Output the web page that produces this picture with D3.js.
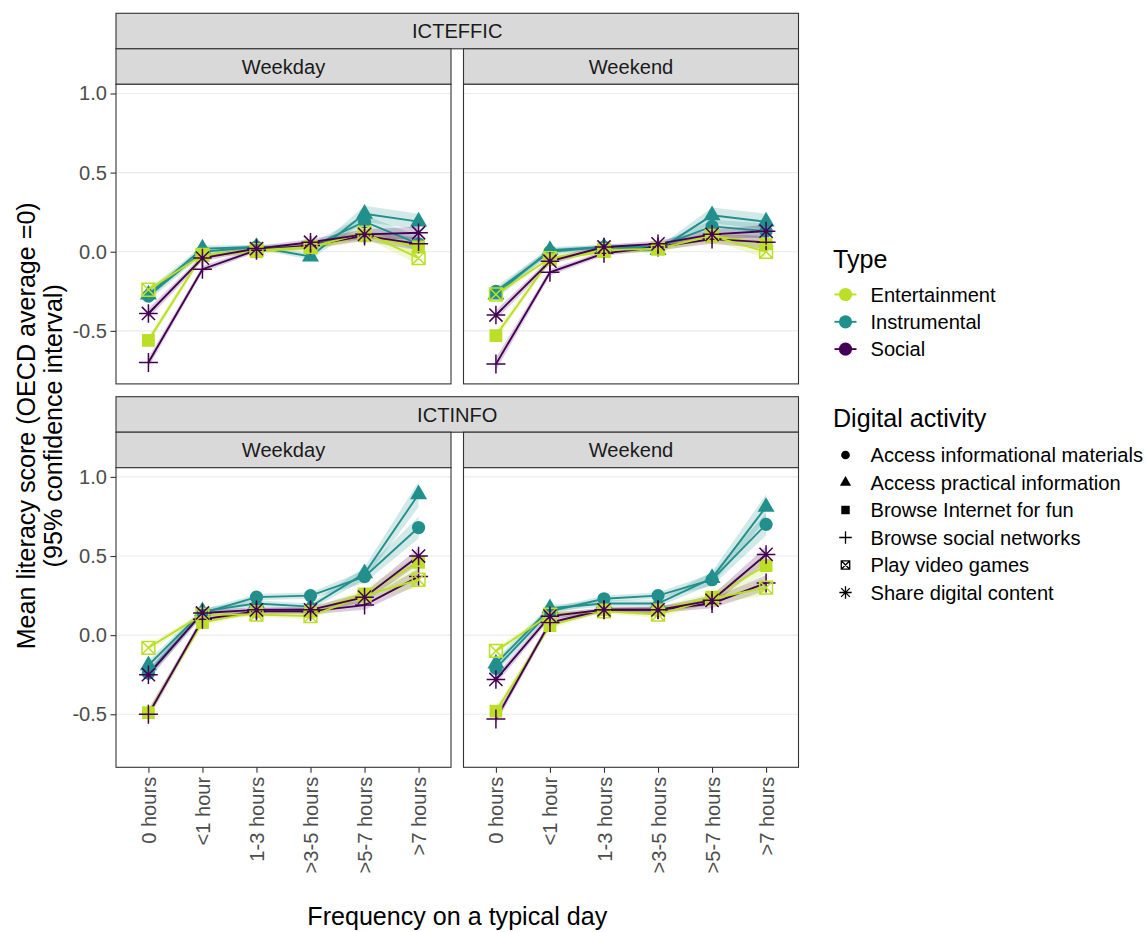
<!DOCTYPE html>
<html>
<head>
<meta charset="utf-8">
<script src="https://cdn.jsdelivr.net/npm/d3@7"></script>
<style>
  html, body { margin: 0; padding: 0; background: #fff; }
  svg { display: block; font-family: "Liberation Sans", Arial, Helvetica, sans-serif; }
</style>
</head>
<body>
<script>
// ---- data -------------------------------------------------------------
const categories = ["0 hours", "<1 hour", "1-3 hours", ">3-5 hours", ">5-7 hours", ">7 hours"];
const measures = ["ICTEFFIC", "ICTINFO"];
const days = ["Weekday", "Weekend"];
const types = ["Entertainment", "Instrumental", "Social"];
const typeColors = ["#BBDF27", "#21908C", "#440154"];
const activities = [
  "Access informational materials",
  "Access practical information",
  "Browse Internet for fun",
  "Browse social networks",
  "Play video games",
  "Share digital content"
];
const activityType = ["Instrumental", "Instrumental", "Entertainment", "Social", "Entertainment", "Social"];
const yTicks = [-0.5, 0, 0.5, 1.0];
const yTickLabels = ["-0.5", "0.0", "0.5", "1.0"];

// mean scores, one row per activity (same order as `activities`)
const effWeekdayMean = [
  [-0.28, 0.00, 0.03, 0.03, 0.19, 0.05],
  [-0.27, 0.02, 0.03, -0.03, 0.24, 0.19],
  [-0.56, -0.02, 0.00, 0.03, 0.10, 0.03],
  [-0.70, -0.11, 0.01, 0.04, 0.10, 0.05],
  [-0.24, -0.02, 0.01, 0.03, 0.12, -0.04],
  [-0.39, -0.04, 0.02, 0.06, 0.11, 0.12]
];
const effWeekendMean = [
  [-0.25, 0.00, 0.03, 0.03, 0.16, 0.13],
  [-0.27, 0.01, 0.03, 0.01, 0.23, 0.19],
  [-0.53, -0.05, 0.00, 0.02, 0.10, 0.05],
  [-0.71, -0.13, -0.01, 0.03, 0.08, 0.06],
  [-0.27, -0.04, 0.01, 0.02, 0.10, 0.00],
  [-0.40, -0.06, 0.03, 0.05, 0.11, 0.13]
];
const infoWeekdayMean = [
  [-0.24, 0.14, 0.24, 0.25, 0.37, 0.68],
  [-0.19, 0.15, 0.20, 0.18, 0.39, 0.89],
  [-0.49, 0.08, 0.15, 0.15, 0.26, 0.46],
  [-0.50, 0.10, 0.15, 0.15, 0.19, 0.37],
  [-0.08, 0.13, 0.13, 0.12, 0.25, 0.35],
  [-0.25, 0.14, 0.16, 0.16, 0.24, 0.50]
];
const infoWeekendMean = [
  [-0.21, 0.15, 0.23, 0.25, 0.35, 0.70],
  [-0.18, 0.17, 0.20, 0.20, 0.36, 0.81],
  [-0.48, 0.06, 0.16, 0.16, 0.24, 0.44],
  [-0.53, 0.08, 0.16, 0.16, 0.20, 0.33],
  [-0.10, 0.13, 0.15, 0.13, 0.23, 0.30],
  [-0.28, 0.12, 0.16, 0.16, 0.22, 0.51]
];

// half-width of the 95% confidence interval
const effWeekdayCI = [
  [0.03, 0.02, 0.015, 0.02, 0.04, 0.05],
  [0.03, 0.02, 0.015, 0.02, 0.05, 0.05],
  [0.03, 0.02, 0.015, 0.02, 0.03, 0.04],
  [0.03, 0.02, 0.015, 0.02, 0.03, 0.04],
  [0.02, 0.02, 0.015, 0.02, 0.03, 0.04],
  [0.03, 0.02, 0.015, 0.02, 0.03, 0.04]
];
const effWeekendCI = [
  [0.03, 0.02, 0.015, 0.02, 0.04, 0.05],
  [0.03, 0.02, 0.015, 0.02, 0.05, 0.05],
  [0.03, 0.02, 0.015, 0.02, 0.03, 0.04],
  [0.04, 0.02, 0.015, 0.02, 0.03, 0.04],
  [0.02, 0.02, 0.015, 0.02, 0.03, 0.04],
  [0.03, 0.02, 0.015, 0.02, 0.03, 0.04]
];
const infoWeekdayCI = [
  [0.03, 0.02, 0.02, 0.02, 0.04, 0.07],
  [0.03, 0.02, 0.02, 0.02, 0.04, 0.08],
  [0.03, 0.02, 0.015, 0.02, 0.03, 0.05],
  [0.03, 0.02, 0.015, 0.02, 0.03, 0.05],
  [0.02, 0.02, 0.015, 0.02, 0.03, 0.05],
  [0.03, 0.02, 0.015, 0.02, 0.03, 0.05]
];
const infoWeekendCI = [
  [0.03, 0.02, 0.02, 0.02, 0.04, 0.07],
  [0.03, 0.02, 0.02, 0.02, 0.04, 0.08],
  [0.03, 0.02, 0.015, 0.02, 0.03, 0.05],
  [0.03, 0.02, 0.015, 0.02, 0.03, 0.05],
  [0.02, 0.02, 0.015, 0.02, 0.03, 0.05],
  [0.03, 0.02, 0.015, 0.02, 0.03, 0.05]
];

const panels = [
  { measure: 0, day: 0, mean: effWeekdayMean, ci: effWeekdayCI },
  { measure: 0, day: 1, mean: effWeekendMean, ci: effWeekendCI },
  { measure: 1, day: 0, mean: infoWeekdayMean, ci: infoWeekdayCI },
  { measure: 1, day: 1, mean: infoWeekendMean, ci: infoWeekendCI }
];

// ---- layout -----------------------------------------------------------
const W = 1147, H = 932;
const colLeft = [116, 463.5];
const panelW = 335;
const rowTop = [13.3, 396.7];      // top of the outer strip in each row
const stripH = 35.5;
const panelH = 299.6;
const gridColor = "#EBEBEB", frameColor = "#333333";
const tickTextColor = "#4D4D4D", stripTextColor = "#1A1A1A";
const smallFont = 20.1, titleFont = 25.1;

const svg = d3.select("body").append("svg")
  .attr("width", W).attr("height", H)
  .attr("viewBox", `0 0 ${W} ${H}`);

const colorOf = d3.scaleOrdinal().domain(types).range(typeColors);

// marker path for each activity (0 circle, 1 triangle, 2 square, 3 plus, 4 crossed box, 5 asterisk)
function markerPath(shape, k) {
  const p = d3.path();
  if (shape === 0) {
    const r = 6.6 * k;
    p.moveTo(r, 0); p.arc(0, 0, r, 0, 2 * Math.PI);
  } else if (shape === 1) {
    const s = 17 * k, h = s * Math.sqrt(3) / 2;
    p.moveTo(0, -h * 2 / 3); p.lineTo(s / 2, h / 3); p.lineTo(-s / 2, h / 3); p.closePath();
  } else if (shape === 2) {
    const a = 6.4 * k;
    p.rect(-a, -a, 2 * a, 2 * a);
  } else if (shape === 3) {
    const a = 9.5 * k;
    p.moveTo(-a, 0); p.lineTo(a, 0); p.moveTo(0, -a); p.lineTo(0, a);
  } else if (shape === 4) {
    const a = 6.4 * k;
    p.rect(-a, -a, 2 * a, 2 * a);
    p.moveTo(-a, -a); p.lineTo(a, a); p.moveTo(a, -a); p.lineTo(-a, a);
  } else {
    const a = 9.3 * k, d = 6.6 * k;
    p.moveTo(-a, 0); p.lineTo(a, 0); p.moveTo(0, -a); p.lineTo(0, a);
    p.moveTo(-d, -d); p.lineTo(d, d); p.moveTo(d, -d); p.lineTo(-d, d);
  }
  return p.toString();
}
const filledShape = [true, true, true, false, false, false];

function drawMarker(g, shape, x, y, color, k, sw) {
  const el = g.append("path")
    .attr("d", markerPath(shape, k))
    .attr("transform", `translate(${x},${y})`);
  if (filledShape[shape]) el.attr("fill", color).attr("stroke", "none");
  else el.attr("fill", "none").attr("stroke", color).attr("stroke-width", sw || 1.5);
}

// ---- strips -----------------------------------------------------------
measures.forEach((m, r) => {
  const top = rowTop[r];
  const outerX0 = colLeft[0], outerX1 = colLeft[1] + panelW;
  svg.append("rect")
    .attr("x", outerX0).attr("y", top)
    .attr("width", outerX1 - outerX0).attr("height", stripH)
    .attr("fill", "#D9D9D9").attr("stroke", frameColor).attr("stroke-width", 1.1);
  svg.append("text")
    .attr("x", (outerX0 + outerX1) / 2).attr("y", top + stripH / 2)
    .attr("dy", "0.36em").attr("text-anchor", "middle")
    .attr("font-size", smallFont).attr("fill", stripTextColor).text(m);
  days.forEach((d, c) => {
    svg.append("rect")
      .attr("x", colLeft[c]).attr("y", top + stripH)
      .attr("width", panelW).attr("height", stripH)
      .attr("fill", "#D9D9D9").attr("stroke", frameColor).attr("stroke-width", 1.1);
    svg.append("text")
      .attr("x", colLeft[c] + panelW / 2).attr("y", top + stripH * 1.5)
      .attr("dy", "0.36em").attr("text-anchor", "middle")
      .attr("font-size", smallFont).attr("fill", stripTextColor).text(d);
  });
});

// ---- panels -----------------------------------------------------------
panels.forEach((pn, i) => {
  const x0 = colLeft[pn.day];
  const y0 = rowTop[pn.measure] + 2 * stripH;
  const x = d3.scalePoint().domain(categories).range([x0, x0 + panelW]).padding(0.6);
  const y = d3.scaleLinear().domain([-0.835, 1.058]).range([y0 + panelH, y0]);

  const clipId = "clip" + i;
  svg.append("clipPath").attr("id", clipId)
    .append("rect").attr("x", x0).attr("y", y0).attr("width", panelW).attr("height", panelH);

  const g = svg.append("g");
  g.append("rect").attr("x", x0).attr("y", y0).attr("width", panelW).attr("height", panelH).attr("fill", "#fff");

  // horizontal grid
  g.selectAll(null).data(yTicks).join("line")
    .attr("x1", x0).attr("x2", x0 + panelW)
    .attr("y1", d => y(d)).attr("y2", d => y(d))
    .attr("stroke", gridColor).attr("stroke-width", 1.1);

  const body = g.append("g").attr("clip-path", `url(#${clipId})`);
  const series = activities.map((a, s) => ({
    shape: s,
    color: colorOf(activityType[s]),
    pts: categories.map((c, j) => ({ c, v: pn.mean[s][j], e: pn.ci[s][j] }))
  }));

  const area = d3.area().x(d => x(d.c)).y0(d => y(d.v - d.e)).y1(d => y(d.v + d.e));
  const line = d3.line().x(d => x(d.c)).y(d => y(d.v));

  body.selectAll(null).data(series).join("path")
    .attr("d", d => area(d.pts)).attr("fill", d => d.color).attr("fill-opacity", 0.2);
  body.selectAll(null).data(series).join("path")
    .attr("d", d => line(d.pts)).attr("fill", "none")
    .attr("stroke", d => d.color).attr("stroke-width", 1.9);
  series.forEach(sr => {
    sr.pts.forEach(p => drawMarker(body, sr.shape, x(p.c), y(p.v), sr.color, 1));
  });

  // frame
  g.append("rect").attr("x", x0).attr("y", y0).attr("width", panelW).attr("height", panelH)
    .attr("fill", "none").attr("stroke", frameColor).attr("stroke-width", 1.1);

  // y axis on the left column
  if (pn.day === 0) {
    const ax = svg.append("g").attr("transform", `translate(${x0},0)`)
      .call(d3.axisLeft(y).tickValues(yTicks).tickSize(5.5).tickPadding(3.5)
        .tickFormat((d, k) => yTickLabels[k]));
    ax.select(".domain").remove();
    ax.selectAll(".tick line").attr("stroke", frameColor).attr("stroke-width", 1.1);
    ax.selectAll(".tick text").attr("fill", tickTextColor).attr("font-size", smallFont)
      .attr("font-family", "Liberation Sans, Arial, sans-serif");
  }
  // x axis on the bottom row
  if (pn.measure === 1) {
    const ax = svg.append("g").attr("transform", `translate(0,${y0 + panelH})`)
      .call(d3.axisBottom(x).tickSize(5.5).tickPadding(3.5));
    ax.select(".domain").remove();
    ax.selectAll(".tick line").attr("stroke", frameColor).attr("stroke-width", 1.1);
    ax.selectAll(".tick text")
      .attr("fill", tickTextColor).attr("font-size", smallFont)
      .attr("font-family", "Liberation Sans, Arial, sans-serif")
      .attr("transform", "rotate(-90)")
      .attr("text-anchor", "end")
      .attr("x", -9.5).attr("y", 0).attr("dy", "0.35em");
  }
});

// ---- axis titles --------------------------------------------------------
svg.append("text")
  .attr("x", (colLeft[0] + colLeft[1] + panelW) / 2).attr("y", 925)
  .attr("text-anchor", "middle").attr("font-size", titleFont).attr("fill", "#000")
  .text("Frequency on a typical day");

const yTitle = svg.append("text")
  .attr("transform", `translate(0,${(rowTop[0] + 2 * stripH + rowTop[1] + 2 * stripH + panelH) / 2}) rotate(-90)`)
  .attr("text-anchor", "middle").attr("font-size", titleFont).attr("fill", "#000");
yTitle.append("tspan").attr("x", 0).attr("y", 34.5).text("Mean literacy score (OECD average =0)");
yTitle.append("tspan").attr("x", 0).attr("y", 62).text("(95% confidence interval)");

// ---- legends ----------------------------------------------------------
const legX = 833, keyX = 845.5, labelX = 870.5;
svg.append("text").attr("x", legX).attr("y", 268).attr("font-size", titleFont).text("Type");
types.forEach((t, k) => {
  const cy = 294.5 + k * 27.3;
  svg.append("line").attr("x1", keyX - 11).attr("x2", keyX + 11)
    .attr("y1", cy).attr("y2", cy).attr("stroke", typeColors[k]).attr("stroke-width", 1.9);
  drawMarker(svg, 0, keyX, cy, typeColors[k], 1);
  svg.append("text").attr("x", labelX).attr("y", cy).attr("dy", "0.36em")
    .attr("font-size", smallFont).text(t);
});

svg.append("text").attr("x", legX).attr("y", 427).attr("font-size", titleFont).text("Digital activity");
activities.forEach((a, k) => {
  const cy = 455 + k * 27.5;
  drawMarker(svg, k, keyX, cy, "#000", 0.66, 1.3);
  svg.append("text").attr("x", labelX).attr("y", cy).attr("dy", "0.36em")
    .attr("font-size", smallFont).text(a);
});
</script>
</body>
</html>
